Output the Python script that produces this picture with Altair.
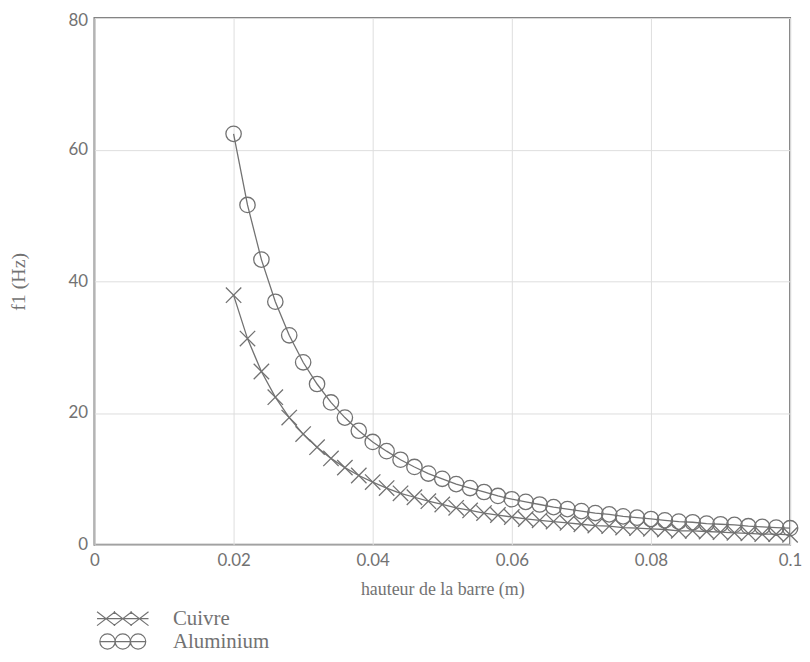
import altair as alt
import pandas as pd

# hauteur de la barre (m)
hauteur = [0.020, 0.022, 0.024, 0.026, 0.028, 0.030, 0.032, 0.034, 0.036, 0.038,
           0.040, 0.042, 0.044, 0.046, 0.048, 0.050, 0.052, 0.054, 0.056, 0.058,
           0.060, 0.062, 0.064, 0.066, 0.068, 0.070, 0.072, 0.074, 0.076, 0.078,
           0.080, 0.082, 0.084, 0.086, 0.088, 0.090, 0.092, 0.094, 0.096, 0.098,
           0.100]

# f1 (Hz), values
aluminium = [62.4, 51.6, 43.3, 36.9, 31.8, 27.7, 24.4, 21.6, 19.3, 17.3,
             15.6, 14.2, 12.9, 11.8, 10.8, 10.0, 9.2, 8.6, 8.0, 7.4,
             6.9, 6.5, 6.1, 5.7, 5.4, 5.1, 4.8, 4.6, 4.3, 4.1,
             3.9, 3.7, 3.5, 3.4, 3.2, 3.1, 3.0, 2.8, 2.7, 2.6,
             2.5]
cuivre = [37.9, 31.3, 26.3, 22.4, 19.3, 16.8, 14.8, 13.1, 11.7, 10.5,
          9.5, 8.6, 7.8, 7.2, 6.6, 6.1, 5.6, 5.2, 4.8, 4.5,
          4.2, 3.9, 3.7, 3.5, 3.3, 3.1, 2.9, 2.8, 2.6, 2.5,
          2.4, 2.3, 2.1, 2.1, 2.0, 1.9, 1.8, 1.7, 1.6, 1.6,
          1.5]

series = ["Cuivre", "Aluminium"]
x_ticks = [0, 0.02, 0.04, 0.06, 0.08, 0.1]
y_ticks = [0, 20, 40, 60, 80]

rows = []
for h, v in zip(hauteur, cuivre):
    rows.append({"h": h, "f": v, "serie": "Cuivre"})
for h, v in zip(hauteur, aluminium):
    rows.append({"h": h, "f": v, "serie": "Aluminium"})
df = pd.DataFrame(rows)

GRAY = "#727272"

X_ONE = "M-1,-1L1,1M-1,1L1,-1"
X_THREE = ("M-3.7,0L3.7,0"
           "M-3.7,-1L-1.1,1M-3.7,1L-1.1,-1"
           "M-1.3,-1L1.3,1M-1.3,1L1.3,-1"
           "M1.1,-1L3.7,1M1.1,1L3.7,-1")
def circ(cx, r):
    return (f"M{cx + r},0A{r},{r} 0 1 1 {cx - r},0A{r},{r} 0 1 1 {cx + r},0")
O_THREE = "M-3.3,0L3.3,0" + circ(-2.2, 1.1) + circ(0, 1.1) + circ(2.2, 1.1)

xenc = alt.X("h:Q", scale=alt.Scale(domain=[0, 0.1], nice=False),
             axis=alt.Axis(values=x_ticks, format="~g", title="hauteur de la barre (m)",
                           grid=True, ticks=False, domain=False,
                           labelFont="Lato", labelFontSize=17, labelColor=GRAY,
                           labelPadding=8, labelFlush=False,
                           titleFont="Liberation Serif", titleFontSize=18,
                           titleFontWeight="normal", titleColor=GRAY, titlePadding=12))
yenc = alt.Y("f:Q", scale=alt.Scale(domain=[0, 80], nice=False),
             axis=alt.Axis(values=y_ticks, title="f1 (Hz)", grid=True, ticks=False,
                           domain=False, labelFont="Lato", labelFontSize=17,
                           labelColor=GRAY, labelPadding=7, labelFlush=False,
                           labelOffset={"condition": {"test": "datum.value == 80", "value": 3},
                                        "value": 0},
                           titleFont="Liberation Serif", titleFontSize=20,
                           titleFontWeight="normal", titleColor=GRAY, titleX=-66))

base = alt.Chart(df)

lines = base.mark_line(color=GRAY, strokeWidth=1.3).encode(
    x=xenc, y=yenc, detail="serie:N")

points = base.mark_point(color=GRAY, filled=False, strokeWidth=1.3, size=240,
                         opacity=1).encode(
    x=xenc, y=yenc,
    shape=alt.Shape("serie:N", scale=alt.Scale(domain=series, range=[X_ONE, "circle"]),
                    legend=None))

legend_layer = base.mark_point(color=GRAY, filled=False, strokeWidth=1.2, size=196,
                               opacity=0).encode(
    x=xenc, y=yenc,
    shape=alt.Shape("serie:N", scale=alt.Scale(domain=series, range=[X_THREE, O_THREE]),
                    legend=alt.Legend(title=None, orient="none", legendX=18, legendY=594,
                                      symbolSize=196, symbolOpacity=1,
                                      symbolStrokeColor=GRAY, symbolFillColor="transparent",
                                      symbolStrokeWidth=1.2, labelFont="Liberation Serif",
                                      labelFontSize=21, labelColor=GRAY, labelOffset=40,
                                      rowPadding=1)))

chart = alt.layer(lines, points, legend_layer).resolve_scale(shape="independent").properties(
    width=700, height=530,
    autosize=alt.AutoSizeParams(type="none"),
    padding={"left": 87, "top": 8, "right": 12, "bottom": 107},
    background="white",
).configure_view(stroke="#808080", strokeWidth=2).configure_axis(
    gridColor="#dedede", gridWidth=1)

chart.save("out.html", embed_options={"renderer": "svg", "actions": False})
